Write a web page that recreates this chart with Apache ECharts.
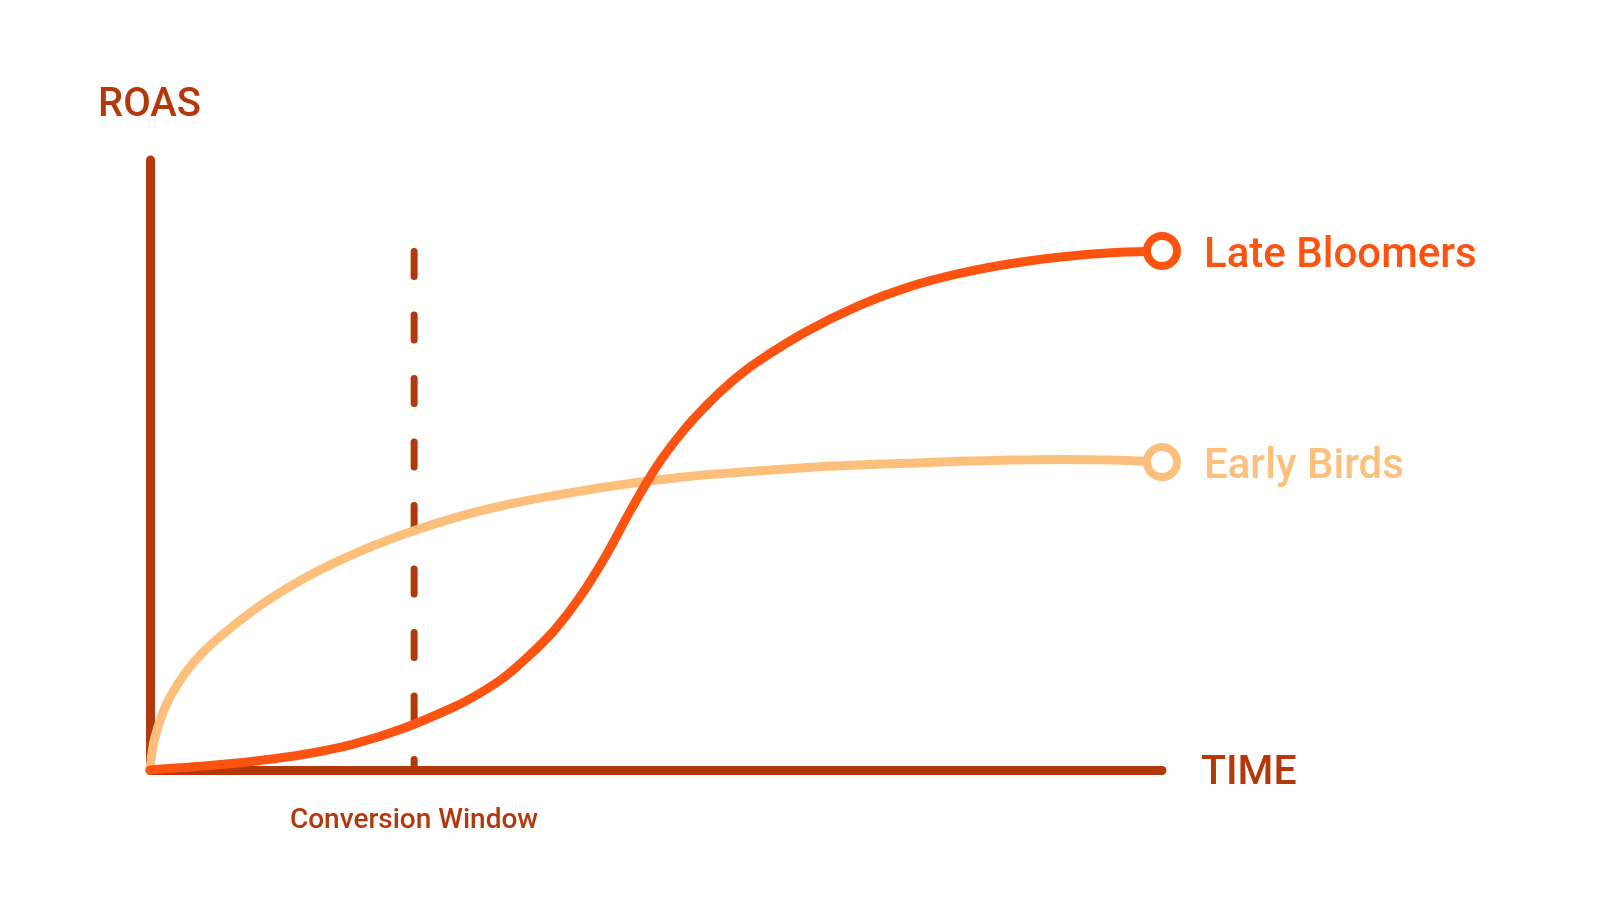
<!DOCTYPE html>
<html>
<head>
<meta charset="utf-8">
<script src="https://cdn.jsdelivr.net/npm/echarts@6/dist/echarts.min.js"></script>
<style>
html,body{margin:0;padding:0;background:#fff;}
#chart{width:1600px;height:910px;}
</style>
</head>
<body>
<div id="chart"></div>
<script>
// Data (time 0-100, ROAS 0-100, arbitrary units)
const lateBloomersX = [0, 5, 10, 15, 20, 25, 30, 32.5, 35, 37.5, 40, 42.5, 45, 47.5, 50, 52.5, 55, 57.5, 60, 65, 70, 75, 80, 85, 90, 95, 100];
const lateBloomersY = [0, 0.6, 1.4, 2.5, 4.2, 6.8, 10.3, 12.5, 15.2, 18.8, 23.0, 28.4, 35.0, 42.6, 49.6, 55.2, 59.8, 63.7, 66.9, 72.0, 76.1, 79.2, 81.4, 83.0, 84.1, 84.8, 85.1];
const earlyBirdsX = [0, 0.5, 2, 5, 10, 15, 20, 25, 30, 35, 40, 45, 50, 55, 60, 65, 70, 75, 80, 85, 90, 95, 100];
const earlyBirdsY = [0, 5.4, 12.0, 18.9, 25.9, 31.2, 35.3, 38.6, 41.3, 43.4, 45.0, 46.4, 47.5, 48.4, 49.0, 49.6, 50.0, 50.3, 50.6, 50.8, 50.9, 50.8, 50.5];
const conversionWindowX = 26.1;
const conversionWindowTop = 85.0;
const seriesNames = ['Late Bloomers', 'Early Birds'];
const axisNames = {y: 'ROAS', x: 'TIME', marker: 'Conversion Window'};

const axisColor = '#b3390d';
const lateColor = '#fc5410';
const earlyColor = '#fdc07c';
const FONT = 'Roboto';

function build(xs, ys, color) {
  return xs.map((x, i) => {
    const item = {value: [x, ys[i]]};
    if (i === xs.length - 1) {
      item.symbol = 'circle';
      item.symbolSize = 30;
      item.itemStyle = {color: '#fff', borderColor: color, borderWidth: 8};
    } else {
      item.symbol = 'none';
    }
    return item;
  });
}

const chart = echarts.init(document.getElementById('chart'));
chart.setOption({
  animation: false,
  backgroundColor: '#fff',
  grid: {left: 150, right: 438, top: 160, bottom: 140},
  xAxis: {
    type: 'value', min: 0, max: 100,
    axisLine: {show: true, onZero: false, lineStyle: {color: axisColor, width: 9, cap: 'round'}},
    axisTick: {show: false}, axisLabel: {show: false}, splitLine: {show: false}
  },
  yAxis: {
    type: 'value', min: 0, max: 100,
    axisLine: {show: true, onZero: false, lineStyle: {color: axisColor, width: 9, cap: 'round'}},
    axisTick: {show: false}, axisLabel: {show: false}, splitLine: {show: false}
  },
  series: [
    {
      name: axisNames.marker,
      type: 'line',
      z: 1,
      symbol: 'none',
      data: [[conversionWindowX, conversionWindowTop], [conversionWindowX, 0]],
      lineStyle: {color: axisColor, width: 7, type: [25, 38.5], cap: 'round'},
      silent: true
    },
    {
      name: seriesNames[1],
      type: 'line',
      z: 3,
      smooth: 0.33,
      data: build(earlyBirdsX, earlyBirdsY, earlyColor),
      lineStyle: {color: earlyColor, width: 9, cap: 'round', join: 'round'},
      itemStyle: {color: earlyColor},
      endLabel: {show: true, formatter: '{a}', distance: 42, offset: [0, 6], color: earlyColor,
        fontFamily: FONT, fontSize: 42, fontWeight: 500}
    },
    {
      name: seriesNames[0],
      type: 'line',
      z: 4,
      smooth: 0.33,
      data: build(lateBloomersX, lateBloomersY, lateColor),
      lineStyle: {color: lateColor, width: 9, cap: 'round', join: 'round'},
      itemStyle: {color: lateColor},
      endLabel: {show: true, formatter: '{a}', distance: 42, offset: [0, 6], color: lateColor,
        fontFamily: FONT, fontSize: 42, fontWeight: 500}
    }
  ],
  graphic: [
    {type: 'text', left: 98, top: 86, style: {text: axisNames.y, fill: axisColor, font: '500 40px Roboto'}},
    {type: 'text', x: 1201, y: 774, style: {text: axisNames.x, fill: axisColor, font: '500 41px Roboto', textVerticalAlign: 'middle'}},
    {type: 'text', x: 414, y: 821, style: {text: axisNames.marker, fill: axisColor, font: '500 28px Roboto', textAlign: 'center', textVerticalAlign: 'middle'}}
  ]
});
</script>
</body>
</html>
